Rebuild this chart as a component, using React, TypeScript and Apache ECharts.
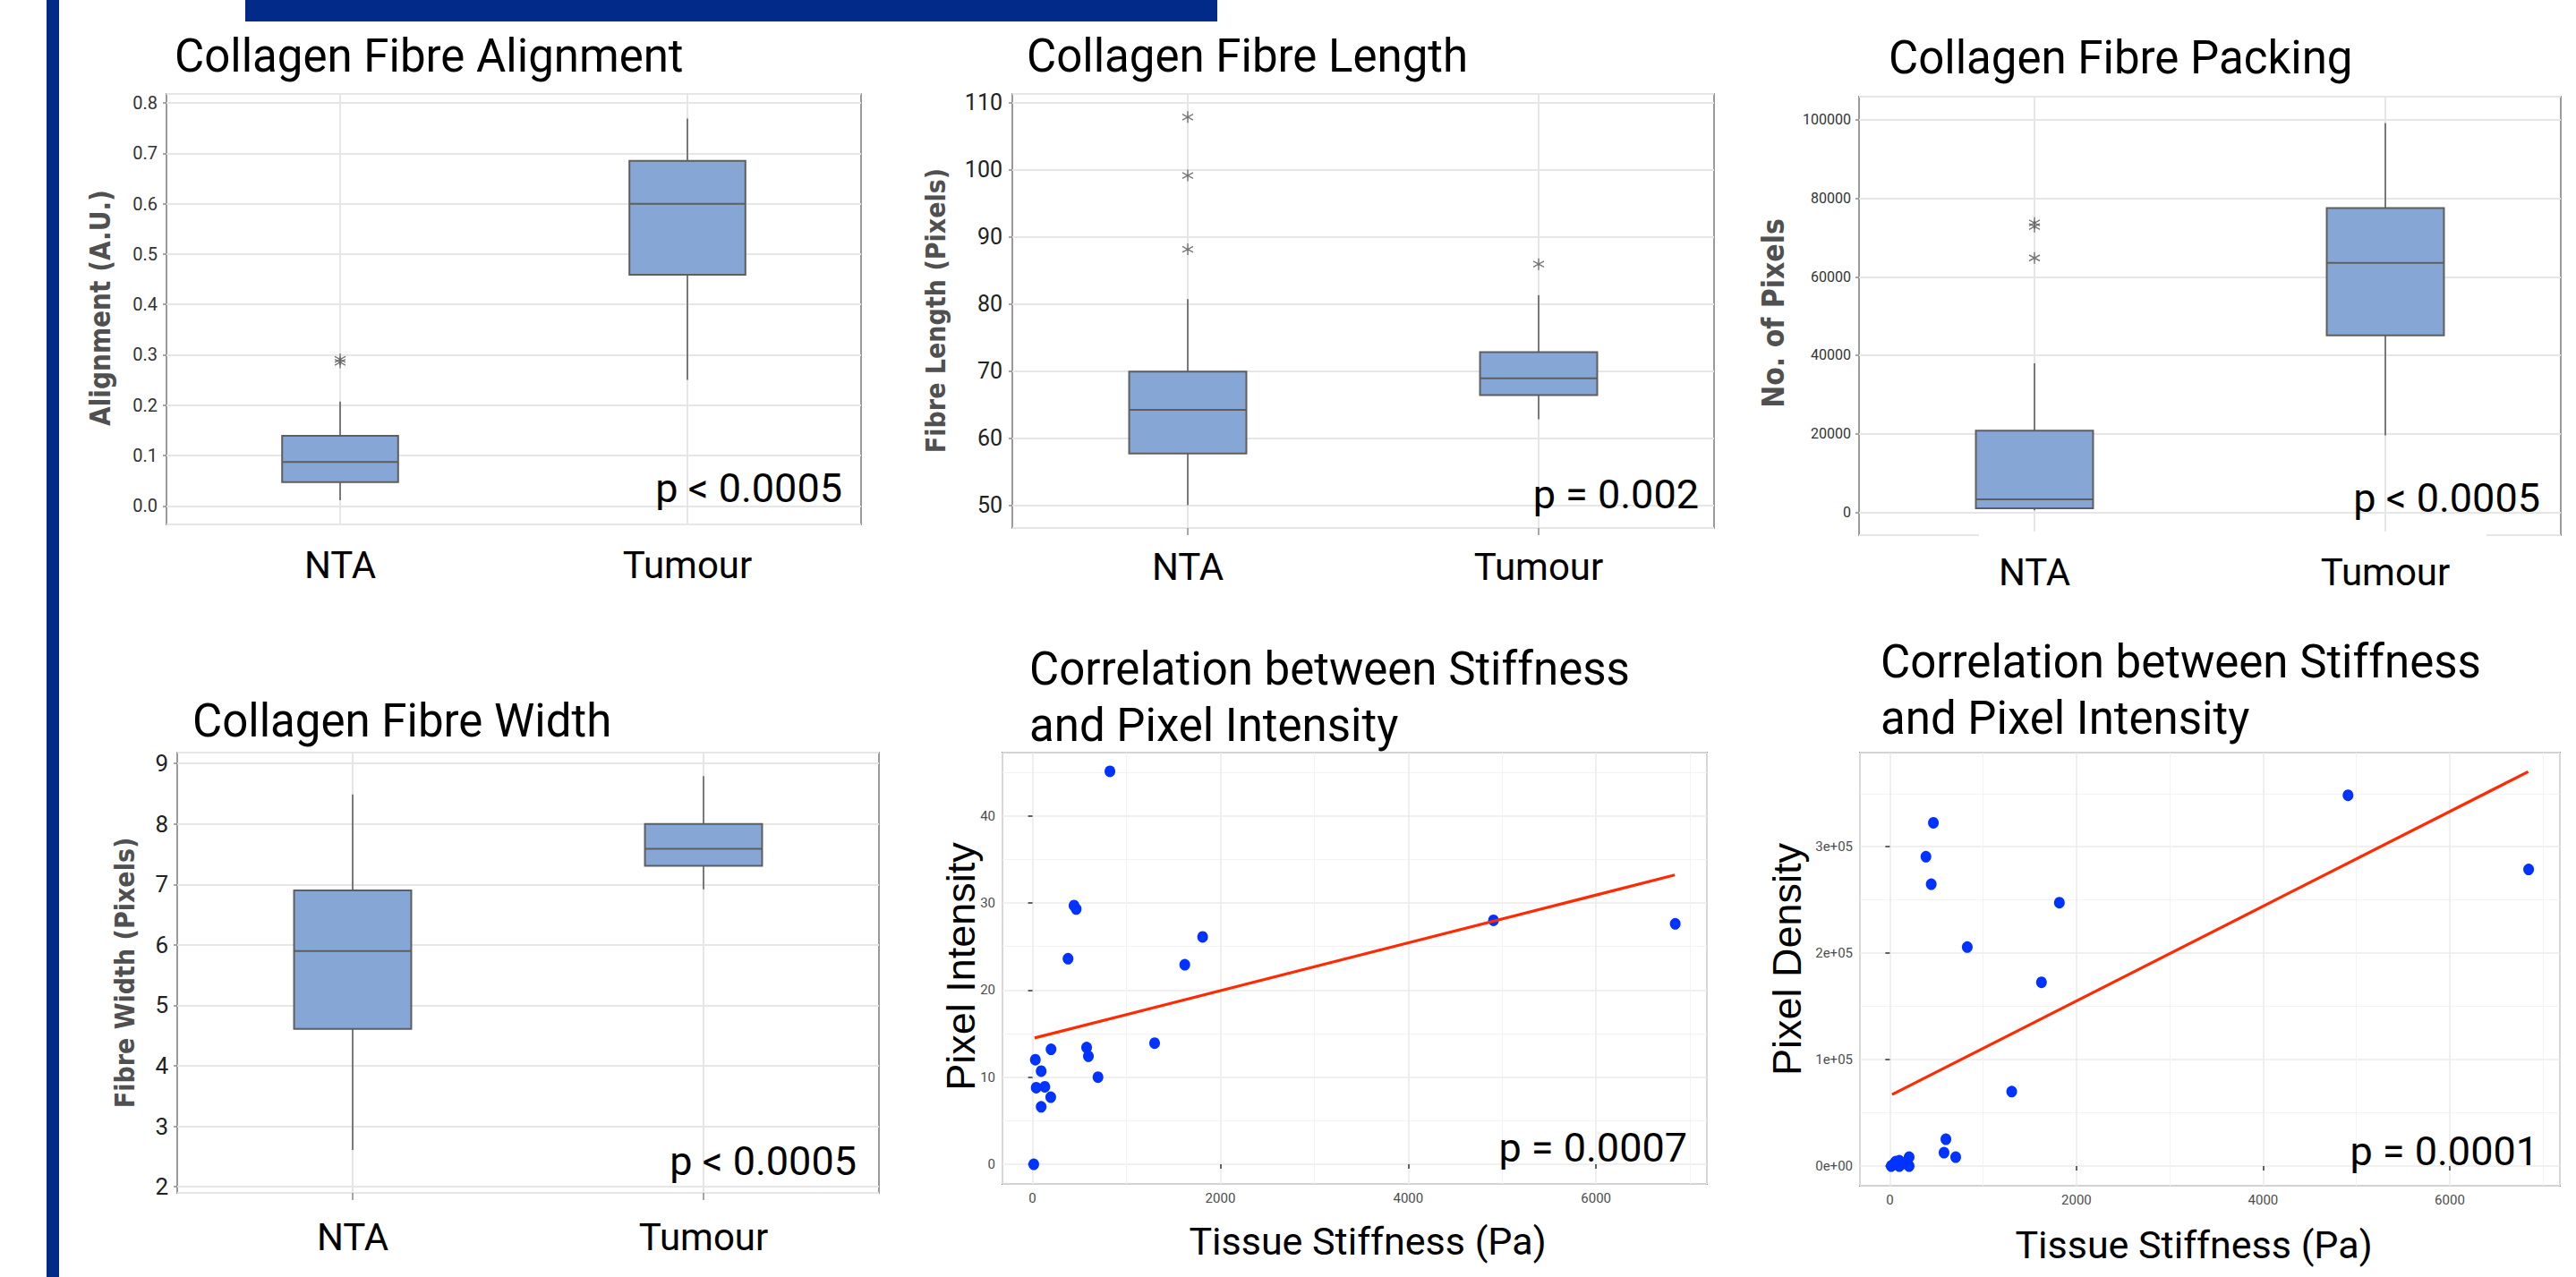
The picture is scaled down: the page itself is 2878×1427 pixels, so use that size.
import React, { useEffect, useRef } from 'react';
import * as echarts from 'echarts';

const W = 2878;
const H = 1427;

// ---------- data ----------
const GROUPS = ['NTA', 'Tumour'];

// box statistics: [lower whisker, Q1, median, Q3, upper whisker]
const ALIGN_NTA = [0.011, 0.047, 0.087, 0.139, 0.207];
const ALIGN_TUM = [0.25, 0.459, 0.6, 0.685, 0.769];
const ALIGN_OUT_NTA = [0.285, 0.291];
const ALIGN_OUT_TUM: number[] = [];

const LENGTH_NTA = [50.0, 57.7, 64.2, 69.9, 80.7];
const LENGTH_TUM = [62.8, 66.4, 68.9, 72.8, 81.3];
const LENGTH_OUT_NTA = [88.1, 99.1, 107.8];
const LENGTH_OUT_TUM = [85.9];

const PACK_NTA = [500, 980, 3260, 20780, 37920];
const PACK_TUM = [19590, 45050, 63560, 77510, 99200];
const PACK_OUT_NTA = [64800, 72800, 73700];
const PACK_OUT_TUM: number[] = [];

const WIDTH_NTA = [2.61, 4.61, 5.9, 6.9, 8.49];
const WIDTH_TUM = [6.92, 7.31, 7.59, 8.0, 8.79];
const WIDTH_OUT_NTA: number[] = [];
const WIDTH_OUT_TUM: number[] = [];

// scatter: stiffness (Pa) vs pixel intensity
const INT_STIFF = [824, 442, 465, 378, 1811, 1621, 4908, 6843, 197, 30, 92, 39, 131, 194, 92, 13, 576, 595, 697, 1300];
const INT_VALUE = [45.1, 29.7, 29.3, 23.6, 26.1, 22.9, 28.0, 27.6, 13.2, 12.0, 10.7, 8.8, 8.9, 7.7, 6.6, 0.0, 13.4, 12.4, 10.0, 13.9];
const INT_FIT_X = [22, 6838];
const INT_FIT_Y = [14.5, 33.2];

// scatter: stiffness (Pa) vs pixel density
const DEN_STIFF = [4910, 6845, 467, 387, 444, 1817, 830, 1625, 1306, 601, 581, 706, 15, 40, 63, 102, 102, 150, 207, 207];
const DEN_VALUE = [348400, 278700, 322500, 290700, 264800, 247500, 205800, 172600, 70000, 25200, 12600, 8400, 0, 1500, 4200, 5000, 0, 2500, 8400, 0];
const DEN_FIT_X = [24, 6840];
const DEN_FIT_Y = [67200, 370500];

// ---------- layout / style ----------
const GRIDS = [
  { left: 186, top: 105, width: 776, height: 481 },
  { left: 1131, top: 105, width: 784, height: 485 },
  { left: 2077, top: 108, width: 784, height: 490 },
  { left: 198, top: 841, width: 784, height: 492 },
  { left: 1120, top: 841, width: 787, height: 482 },
  { left: 2078, top: 841, width: 782, height: 484 },
];

const NAVY = '#022a88';
const BOX_FILL = '#86a6d6';
const BOX_LINE = '#5e5e5e';
const GRID_LINE = '#e6e6e6';
const FONT = 'Roboto, sans-serif';
const NARROW = "'Liberation Sans Narrow', Roboto, sans-serif";
const STAR = 'path://M0,-10L0,10M-8.66,-5L8.66,5M-8.66,5L8.66,-5';

const sci = (v: number) => {
  if (v === 0) return '0e+00';
  const e = Math.floor(Math.log10(Math.abs(v)) + 1e-9);
  const m = v / Math.pow(10, e);
  return `${Math.round(m)}e+${String(e).padStart(2, '0')}`;
};

function renderBox(params: any, api: any) {
  const cat = api.value(0);
  const pts = [1, 2, 3, 4, 5].map((i) => api.coord([cat, api.value(i)]));
  const cx = pts[0][0];
  const band = api.size([1, 0])[0];
  const w = band * 0.334;
  const cs = params.coordSys;
  const lo = pts[0][1], q1 = pts[1][1], md = pts[2][1], q3 = pts[3][1], hi = pts[4][1];
  return {
    type: 'group',
    children: [
      { type: 'line', silent: true, shape: { x1: cx, y1: cs.y, x2: cx, y2: cs.y + cs.height }, style: { stroke: GRID_LINE, lineWidth: 2 } },
      { type: 'line', shape: { x1: cx, y1: lo, x2: cx, y2: q1 }, style: { stroke: BOX_LINE, lineWidth: 1.6 } },
      { type: 'line', shape: { x1: cx, y1: q3, x2: cx, y2: hi }, style: { stroke: BOX_LINE, lineWidth: 1.6 } },
      { type: 'rect', shape: { x: cx - w / 2, y: q3, width: w, height: q1 - q3 }, style: { fill: BOX_FILL, stroke: BOX_LINE, lineWidth: 2 } },
      { type: 'line', shape: { x1: cx - w / 2, y1: md, x2: cx + w / 2, y2: md }, style: { stroke: BOX_LINE, lineWidth: 2 } },
    ],
  };
}

type BoxPanel = {
  nta: number[]; tum: number[]; outNta: number[]; outTum: number[];
  min: number; max: number; split: number; labelSize: number; labelColor: string;
  labelMargin: number; catMargin: number; fmt: (v: number) => string; showCatTick: boolean;
};

const BOX_PANELS: BoxPanel[] = [
  { nta: ALIGN_NTA, tum: ALIGN_TUM, outNta: ALIGN_OUT_NTA, outTum: ALIGN_OUT_TUM, min: -0.0368, max: 0.818, split: 8, labelSize: 20, labelColor: '#333', labelMargin: 10, catMargin: 24, fmt: (v) => v.toFixed(1), showCatTick: true },
  { nta: LENGTH_NTA, tum: LENGTH_TUM, outNta: LENGTH_OUT_NTA, outTum: LENGTH_OUT_TUM, min: 46.6, max: 111.24, split: 6, labelSize: 25, labelColor: '#222', labelMargin: 11, catMargin: 22, fmt: (v) => String(Math.round(v)), showCatTick: true },
  { nta: PACK_NTA, tum: PACK_TUM, outNta: PACK_OUT_NTA, outTum: PACK_OUT_TUM, min: -5840, max: 105900, split: 5, labelSize: 16, labelColor: '#333', labelMargin: 9, catMargin: 20, fmt: (v) => String(Math.round(v)), showCatTick: false },
  { nta: WIDTH_NTA, tum: WIDTH_TUM, outNta: WIDTH_OUT_NTA, outTum: WIDTH_OUT_TUM, min: 1.9, max: 9.18, split: 7, labelSize: 26, labelColor: '#222', labelMargin: 10, catMargin: 28, fmt: (v) => String(Math.round(v)), showCatTick: true },
];

function text(t: string, x: number, baseline: number, size: number, align: string, family = FONT, fill = '#000', weight: any = 'normal') {
  return {
    type: 'text', x, y: baseline - 0.35 * size, z: 50,
    style: { text: t, fill, fontSize: size, fontFamily: family, fontWeight: weight, textAlign: align, align, textVerticalAlign: 'middle', verticalAlign: 'middle' },
  };
}

function vtext(t: string, cx: number, cy: number, size: number, family: string, fill: string, weight: any, thick = 1) {
  return {
    type: 'text', x: cx, y: cy, rotation: Math.PI / 2, scaleX: 1, scaleY: thick, z: 50,
    style: { text: t, fill, fontSize: size, fontFamily: family, fontWeight: weight, textAlign: 'center', align: 'center', textVerticalAlign: 'middle', verticalAlign: 'middle' },
  };
}

function buildOption() {
  const grid: any[] = GRIDS.map((g) => ({ ...g, show: true, borderColor: '#9a9a9a', borderWidth: 2, backgroundColor: 'transparent', containLabel: false, outerBoundsMode: 'none' }));
  grid[4].borderColor = '#8c8c8c';
  grid[5].borderColor = '#8c8c8c';

  const xAxis: any[] = [];
  const yAxis: any[] = [];
  const series: any[] = [];

  BOX_PANELS.forEach((p, i) => {
    xAxis.push({
      type: 'category', gridIndex: i, data: GROUPS, boundaryGap: true,
      axisLine: { show: false },
      axisTick: { show: p.showCatTick, alignWithLabel: true, length: 8, lineStyle: { color: '#8a8a8a', width: 1.5 } },
      axisLabel: { fontSize: 42, fontFamily: FONT, color: '#000', margin: p.catMargin },
      splitLine: { show: false },
    });
    yAxis.push({
      type: 'value', gridIndex: i, min: p.min, max: p.max, splitNumber: p.split,
      axisLine: { show: false },
      axisTick: { show: true, length: 4, lineStyle: { color: '#8a8a8a', width: 1.5 } },
      axisLabel: { fontSize: p.labelSize, fontFamily: NARROW, color: p.labelColor, margin: p.labelMargin, showMinLabel: false, showMaxLabel: false, formatter: p.fmt },
      splitLine: { show: true, lineStyle: { color: GRID_LINE, width: 2 } },
    });
    series.push({
      type: 'custom', xAxisIndex: i, yAxisIndex: i, z: 3,
      data: [[0, ...p.nta], [1, ...p.tum]],
      encode: { x: 0, y: [1, 2, 3, 4, 5] },
      renderItem: renderBox,
    });
    series.push({
      type: 'scatter', xAxisIndex: i, yAxisIndex: i, z: 5,
      data: [...p.outNta.map((v) => [0, v]), ...p.outTum.map((v) => [1, v])],
      symbol: STAR, symbolSize: [12, 13],
      itemStyle: { color: 'rgba(0,0,0,0)', borderColor: '#555', borderWidth: 1.4 },
    });
  });

  const scatterPanels = [
    { xs: INT_STIFF, ys: INT_VALUE, fx: INT_FIT_X, fy: INT_FIT_Y, min: -2.25, max: 47.25, fmt: (v: number) => String(Math.round(v)) },
    { xs: DEN_STIFF, ys: DEN_VALUE, fx: DEN_FIT_X, fy: DEN_FIT_Y, min: -18500, max: 388500, fmt: sci },
  ];
  scatterPanels.forEach((p, k) => {
    const i = 4 + k;
    xAxis.push({
      type: 'value', gridIndex: i, min: -320, max: 7180, splitNumber: 4,
      axisLine: { show: false },
      axisTick: { show: true, length: 5, lineStyle: { color: '#333', width: 1.5 } },
      axisLabel: { fontSize: 15, fontFamily: NARROW, color: '#4d4d4d', margin: 8, showMinLabel: false, showMaxLabel: false, formatter: (v: number) => String(Math.round(v)) },
      splitLine: { show: true, lineStyle: { color: '#ebebeb', width: 1.6 } },
      minorTick: { show: false, splitNumber: 2 },
      minorSplitLine: { show: true, lineStyle: { color: '#f3f3f3', width: 1 } },
    });
    yAxis.push({
      type: 'value', gridIndex: i, min: p.min, max: p.max, splitNumber: 5,
      axisLine: { show: false },
      axisTick: { show: true, length: 5, lineStyle: { color: '#333', width: 1.5 } },
      axisLabel: { fontSize: 15, fontFamily: NARROW, color: '#4d4d4d', margin: 8, showMinLabel: false, showMaxLabel: false, formatter: p.fmt },
      splitLine: { show: true, lineStyle: { color: '#ebebeb', width: 1.6 } },
      minorTick: { show: false, splitNumber: 2 },
      minorSplitLine: { show: true, lineStyle: { color: '#f3f3f3', width: 1 } },
    });
    series.push({
      type: 'scatter', xAxisIndex: i, yAxisIndex: i, z: 3,
      data: p.xs.map((x, j) => [x, p.ys[j]]),
      symbol: 'circle', symbolSize: [12, 13],
      itemStyle: { color: '#0033ff', opacity: 1 },
    });
    series.push({
      type: 'line', xAxisIndex: i, yAxisIndex: i, z: 4,
      data: p.fx.map((x, j) => [x, p.fy[j]]),
      symbol: 'none', showSymbol: false, lineStyle: { color: '#ff2a00', width: 3.2 },
    });
  });

  const VT = "'DejaVu Sans', sans-serif";
  const graphic: any[] = [
    { type: 'rect', shape: { x: 274, y: 0, width: 1086, height: 24 }, style: { fill: NAVY }, z: 40 },
    { type: 'rect', shape: { x: 52, y: 0, width: 14, height: H }, style: { fill: NAVY }, z: 40 },
    { type: 'rect', shape: { x: 2211, y: 594, width: 567, height: 8 }, style: { fill: '#fff' }, z: 40 },
    // titles
    text('Collagen Fibre Alignment', 195, 80, 51, 'left'),
    text('Collagen Fibre Length', 1147, 80, 51, 'left'),
    text('Collagen Fibre Packing', 2110, 82, 51, 'left'),
    text('Collagen Fibre Width', 215, 823, 51, 'left'),
    text('Correlation between Stiffness', 1150, 765, 51, 'left'),
    text('and Pixel Intensity', 1150, 828, 51, 'left'),
    text('Correlation between Stiffness', 2101, 757, 51, 'left'),
    text('and Pixel Intensity', 2101, 820, 51, 'left'),
    // p-values
    text('p < 0.0005', 941, 561, 45, 'right'),
    text('p = 0.002', 1898, 568, 45, 'right'),
    text('p < 0.0005', 2838, 572, 45, 'right'),
    text('p < 0.0005', 957, 1313, 45, 'right'),
    text('p = 0.0007', 1885, 1298, 45, 'right'),
    text('p = 0.0001', 2836, 1302, 45, 'right'),
    // scatter x titles
    text('Tissue Stiffness (Pa)', 1528, 1402, 43, 'center'),
    text('Tissue Stiffness (Pa)', 2451, 1406, 43, 'center'),
    // y titles
    vtext('Alignment (A.U.)', 112, 344, 28, VT, '#505050', 'bold', 1.12),
    vtext('Fibre Length (Pixels)', 1045, 347, 27, VT, '#505050', 'bold', 1.12),
    vtext('No. of Pixels', 1981, 350, 30, VT, '#505050', 'bold', 1.1),
    vtext('Fibre Width (Pixels)', 139, 1087, 27, VT, '#505050', 'bold', 1.12),
    vtext('Pixel Intensity', 1073, 1080, 45, "'Liberation Sans', Arial, sans-serif", '#000', 'normal'),
    vtext('Pixel Density', 1996, 1072, 45, "'Liberation Sans', Arial, sans-serif", '#000', 'normal'),
  ];

  return {
    animation: false,
    backgroundColor: '#ffffff',
    grid, xAxis, yAxis, series, graphic,
  };
}

export default function App() {
  const ref = useRef<HTMLDivElement>(null);
  useEffect(() => {
    if (!ref.current) return;
    const chart = echarts.init(ref.current, null, { renderer: 'svg', width: W, height: H });
    chart.setOption(buildOption() as any);
    return () => chart.dispose();
  }, []);
  return <div ref={ref} style={{ position: 'absolute', left: 0, top: 0, width: W, height: H, background: '#fff' }} />;
}
